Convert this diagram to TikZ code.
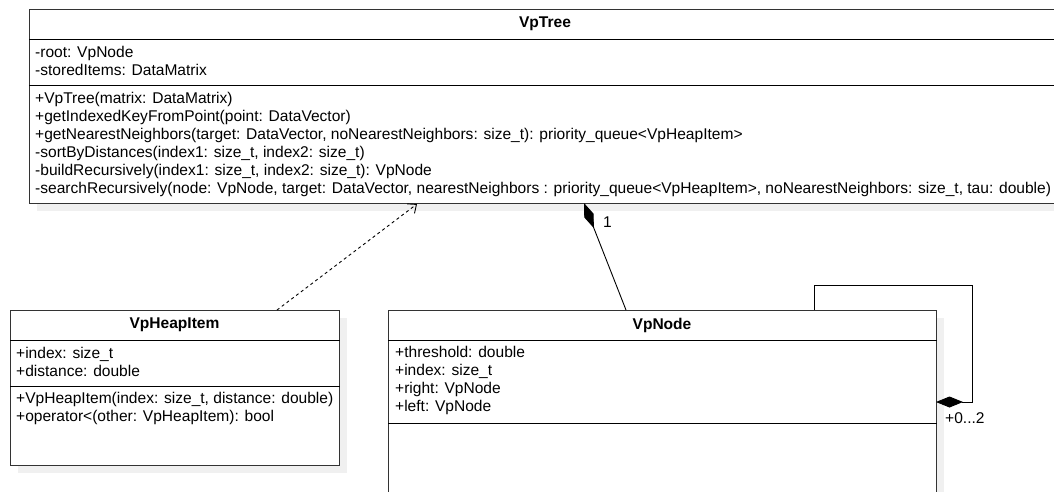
\documentclass[tikz,border=0pt]{standalone}
\usepackage{fontspec}
\setmainfont{Liberation Sans}
\usetikzlibrary{arrows.meta,calc}
\begin{document}
\begin{tikzpicture}[x=1pt,y=-1pt,
  box/.style={draw=black!80, line width=1pt, fill=white, inner sep=0pt, anchor=north west},
  shadowbox/.style={fill=black!6, draw=none, inner sep=0pt, anchor=north west},
  sep/.style={draw=black, line width=1pt},
  title/.style={font=\fontsize{15.55}{18}\selectfont\bfseries, inner sep=0pt},
  member/.style={font=\fontsize{15.55}{18}\selectfont, align=left, anchor=west, inner sep=0pt},
  conn/.style={line width=0.9pt, draw=black},
  lbl/.style={font=\fontsize{15.55}{18}\selectfont, inner sep=0pt, anchor=west}]
\useasboundingbox (0,0) rectangle (1054,491);
\clip (0,0) rectangle (1054,491);
\fill[white] (0,0) rectangle (1054,491);

% shadows
\node[shadowbox, minimum width=1032pt, minimum height=194pt] (tree-sh) at (37,17) {};
\node[shadowbox, minimum width=329pt, minimum height=155pt] (heap-sh) at (18,318) {};
\node[shadowbox, minimum width=548pt, minimum height=200pt] (vpnode-sh) at (396,318) {};

% VpTree
\node[box, minimum width=1032pt, minimum height=194pt] (tree) at (29,9) {};
\draw[sep] ($(tree.north west)+(0,30)$) -- ($(tree.north east)+(0,30)$);
\draw[sep] ($(tree.north west)+(0,76)$) -- ($(tree.north east)+(0,76)$);
\node[title] (tree-t) at (545,24) {VpTree};
\node[member] (tree-a) at (35,61) {-root: VpNode\\-storedItems: DataMatrix};
\node[member] (tree-m) at (35,144) {+VpTree(matrix: DataMatrix)\\
+getIndexedKeyFromPoint(point: DataVector)\\
+getNearestNeighbors(target: DataVector, noNearestNeighbors: size\_t): priority\_queue<VpHeapItem>\\
-sortByDistances(index1: size\_t, index2: size\_t)\\
-buildRecursively(index1: size\_t, index2: size\_t): VpNode\\
-searchRecursively(node: VpNode, target: DataVector, nearestNeighbors : priority\_queue<VpHeapItem>, noNearestNeighbors: size\_t, tau: double)};

% VpHeapItem
\node[box, minimum width=329pt, minimum height=155pt] (heap) at (10,310) {};
\draw[sep] ($(heap.north west)+(0,30)$) -- ($(heap.north east)+(0,30)$);
\draw[sep] ($(heap.north west)+(0,76)$) -- ($(heap.north east)+(0,76)$);
\node[title] (heap-t) at (174.5,325) {VpHeapItem};
\node[member] (heap-a) at (16,362) {+index: size\_t\\+distance: double};
\node[member] (heap-m) at (16,408) {+VpHeapItem(index: size\_t, distance: double)\\+operator<(other: VpHeapItem): bool};

% VpNode
\node[box, minimum width=548pt, minimum height=200pt] (vpnode) at (388,310) {};
\draw[sep] ($(vpnode.north west)+(0,30)$) -- ($(vpnode.north east)+(0,30)$);
\draw[sep] ($(vpnode.north west)+(0,113)$) -- ($(vpnode.north east)+(0,113)$);
\node[title] (vpnode-t) at (662,325) {VpNode};
\node[member] (vpnode-a) at (395,380) {+threshold: double\\+index: size\_t\\+right: VpNode\\+left: VpNode};

% connectors
\coordinate (heap-dep) at (277,310);
\coordinate (tree-dep) at (417,204);
\draw[conn, dash pattern=on 3pt off 3pt, -{Straight Barb[length=7pt,width=12pt]}] (heap-dep) -- (tree-dep);

\coordinate (node-comp) at (626,310);
\coordinate (tree-comp) at (584,203);
\draw[conn, -{Diamond[length=27pt,width=10pt]}] (node-comp) -- (tree-comp);
\node[lbl] (one) at (603,222) {1};

\coordinate (self-a) at (814,310);
\coordinate (self-b) at (936,402);
\draw[conn, -{Diamond[length=27pt,width=11pt]}] (self-a) -- (814,285) -- (972,285) -- (972,402) -- (self-b);
\node[lbl] (mult) at (945,418) {+0...2};
\end{tikzpicture}
\end{document}
